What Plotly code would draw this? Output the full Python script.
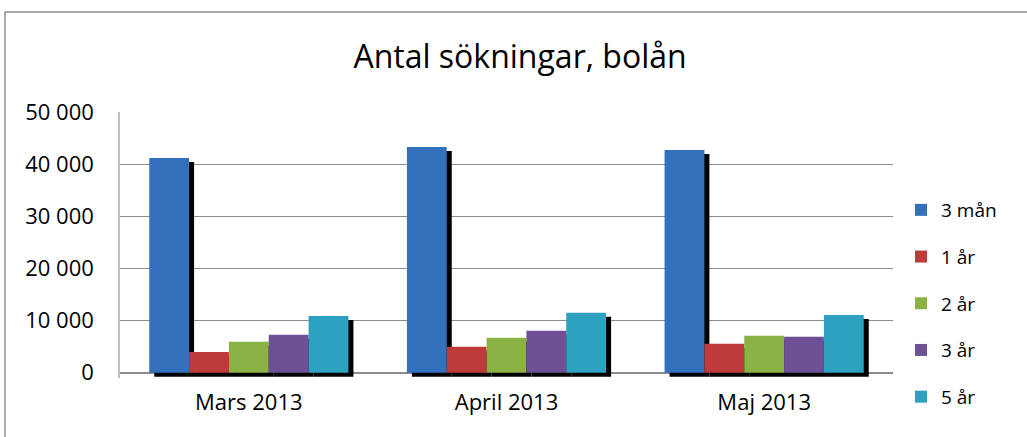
import plotly.graph_objects as go

categories = ["Mars 2013", "April 2013", "Maj 2013"]
series_names = ["3 mån", "1 år", "2 år", "3 år", "5 år"]
v_3man = [41200, 43300, 42700]
v_1ar = [4000, 5000, 5550]
v_2ar = [5950, 6700, 7100]
v_3ar = [7300, 8050, 6900]
v_5ar = [10900, 11500, 11100]
series_values = [v_3man, v_1ar, v_2ar, v_3ar, v_5ar]
colors = ["#3471bd", "#bf3a3a", "#8bb245", "#6d5096", "#2ea0c0"]

y_ticks = [0, 10000, 20000, 30000, 40000, 50000]

W, H = 1027, 437
L, R, T, B = 120, 134, 112, 59
plot_w = W - L - R
plot_h = H - T - B
y_lo, y_hi = -1000, 50000
x_lo, x_hi = -0.5, len(categories) - 0.5

# shadow offset in pixels -> data units
sx = 5 * (x_hi - x_lo) / plot_w
sy = 4 * (y_hi - y_lo) / plot_h

fig = go.Figure()
# shadows (base subplot, drawn first)
for name, vals in zip(series_names, series_values):
    fig.add_trace(go.Bar(x=categories, y=vals, marker=dict(color="#000000", line=dict(width=0)),
                         showlegend=False, hoverinfo="skip", xaxis="x", yaxis="y"))
# real bars (overlay subplot)
for i, (name, vals) in enumerate(zip(series_names, series_values)):
    fig.add_trace(go.Bar(x=categories, y=vals, name=name, legendgroup=name,
                         marker=dict(color=colors[i], line=dict(width=0)),
                         xaxis="x2", yaxis="y2"))

font_family = "Open Sans, Noto Sans, sans-serif"
fig.update_layout(
    width=W, height=H,
    margin=dict(l=L, r=R, t=T, b=B),
    paper_bgcolor="white", plot_bgcolor="white",
    barmode="group", bargap=0.227, bargroupgap=0,
    separators=", ",
    font=dict(family=font_family, color="#000000"),
    title=dict(text="Antal sökningar, bolån", x=520 / W, xanchor="center",
               y=1 - 57 / H, yanchor="middle", font=dict(size=32, family=font_family, color="#000")),
    xaxis=dict(type="category", range=[x_lo - sx, x_hi - sx], visible=False),
    yaxis=dict(range=[y_lo + sy, y_hi + sy], visible=False),
    xaxis2=dict(type="category", overlaying="x", anchor="y2", side="bottom",
                range=[x_lo, x_hi], showline=False, showgrid=False, zeroline=False,
                ticks="", ticklabelstandoff=9,
                tickfont=dict(size=22, family=font_family, color="#000")),
    yaxis2=dict(overlaying="y", anchor="x2", side="left", range=[y_lo, y_hi],
                tickvals=y_ticks, tickformat=",d",
                showgrid=True, gridcolor="#8c8c8c", gridwidth=1,
                zeroline=True, zerolinecolor="#8c8c8c", zerolinewidth=1.5,
                showline=True, linecolor="#c0c0c0", linewidth=1.5,
                ticks="", ticklabelstandoff=20,
                tickfont=dict(size=22, family=font_family, color="#000")),
    legend=dict(x=(901 - L) / plot_w, xanchor="left", y=(H - B - 191) / plot_h, yanchor="top",
                traceorder="grouped", tracegroupgap=19,
                font=dict(size=19, family=font_family, color="#000"),
                bgcolor="rgba(0,0,0,0)"),
    shapes=[dict(type="rect", xref="paper", yref="paper",
                 x0=(5 - L) / plot_w, x1=(W + 10 - L) / plot_w,
                 y0=-(B + 10) / plot_h, y1=1 + (T - 12) / plot_h,
                 line=dict(color="#8f8f8f", width=1.5), layer="below")],
)

fig.write_html("out.html", config={"displayModeBar": False},
               post_script="document.body.style.margin='0';")
